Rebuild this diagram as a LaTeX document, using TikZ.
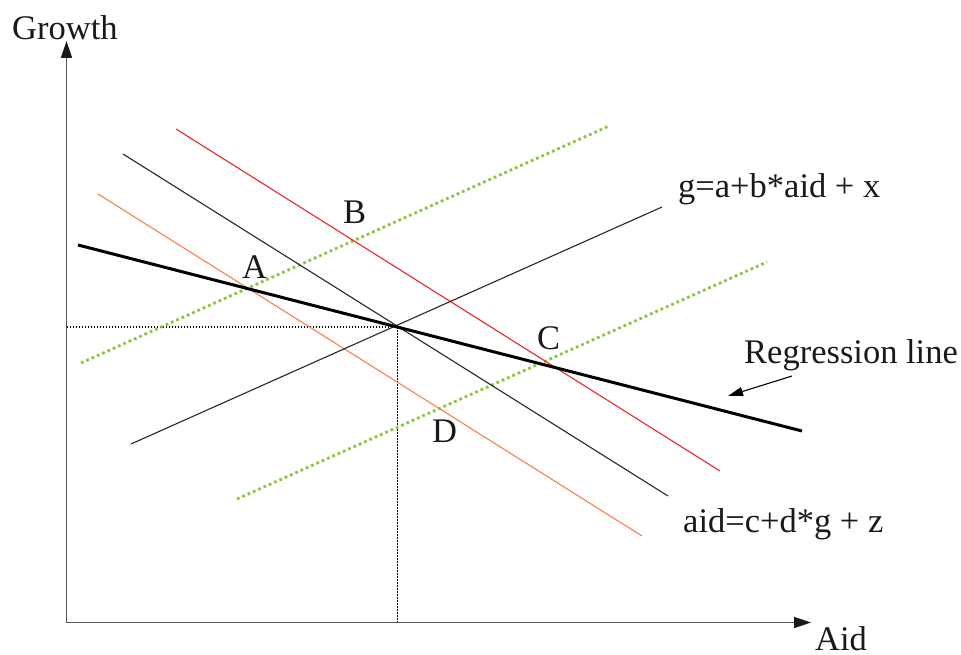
\documentclass[tikz,border=0pt]{standalone}
\usepackage{fontspec}
\setmainfont{Liberation Serif}
\usetikzlibrary{arrows.meta}
\definecolor{axisgray}{HTML}{555555}
\definecolor{lgreen}{HTML}{8CC63F}
\definecolor{lred}{HTML}{E8262B}
\definecolor{lorange}{HTML}{F58345}
\begin{document}
\begin{tikzpicture}[x=1pt,y=-1pt,
  lbl/.style={anchor=base west,inner sep=0pt,font=\fontsize{34.5}{40}\selectfont,text=black!90},
  axis/.style={draw=axisgray,line width=1.6pt,-{Triangle[length=17pt,width=11pt,color=black!90]}},
  thin/.style={line width=1.1pt},
  greendot/.style={draw=lgreen,line width=2.8pt,dash pattern=on 2.8pt off 3pt},
  guide/.style={draw=black,line width=1.1pt,dash pattern=on 1.5pt off 1.5pt}]
\useasboundingbox (0,0) rectangle (961,655);
% coordinates
\coordinate (O) at (66.5,622.5);
\coordinate (Ytip) at (66.5,41);
\coordinate (Xtip) at (811,622.5);
\coordinate (P) at (397.5,327);
\coordinate (Py) at (66.5,327);
\coordinate (Px) at (397.5,622.5);
\coordinate (r1) at (78,245);   \coordinate (r2) at (802,431);
\coordinate (g1) at (131,444);  \coordinate (g2) at (662,207);
\coordinate (k1) at (123,154);  \coordinate (k2) at (668,496);
\coordinate (red1) at (176,129); \coordinate (red2) at (720,471);
\coordinate (or1) at (98,194);  \coordinate (or2) at (642,536);
\coordinate (gr1) at (81,363);  \coordinate (gr2) at (609,126);
\coordinate (gs1) at (237,499); \coordinate (gs2) at (767,262);
\coordinate (ra1) at (792,376); \coordinate (ra2) at (728,396);
% guides
\draw[guide] (Py) -- (P);
\draw[guide] (P) -- (Px);
% axes
\draw[axis] (O) -- (Ytip);
\draw[axis] (O) -- (Xtip);
% lines
\draw[greendot] (gr1) -- (gr2);
\draw[greendot] (gs1) -- (gs2);
\draw[thin,draw=lorange] (or1) -- (or2);
\draw[thin,draw=lred] (red1) -- (red2);
\draw[thin,draw=black!85] (k1) -- (k2);
\draw[thin,draw=black!85] (g1) -- (g2);
\draw[line width=3pt,draw=black] (r1) -- (r2);
\draw[line width=1.1pt,-{Triangle[length=15pt,width=9pt]}] (ra1) -- (ra2);
% labels
\node[lbl] (growth) at (12,40) {Growth};
\node[lbl] (aid) at (815,650) {Aid};
\node[lbl] (geq) at (678,198) {g=a+b*aid + x};
\node[lbl] (aeq) at (683,532) {aid=c+d*g + z};
\node[lbl] (reg) at (744,363) {Regression line};
\node[lbl] (A) at (242,278) {A};
\node[lbl] (B) at (343,224) {B};
\node[lbl] (C) at (537,349) {C};
\node[lbl] (D) at (432,442) {D};
\end{tikzpicture}
\end{document}
